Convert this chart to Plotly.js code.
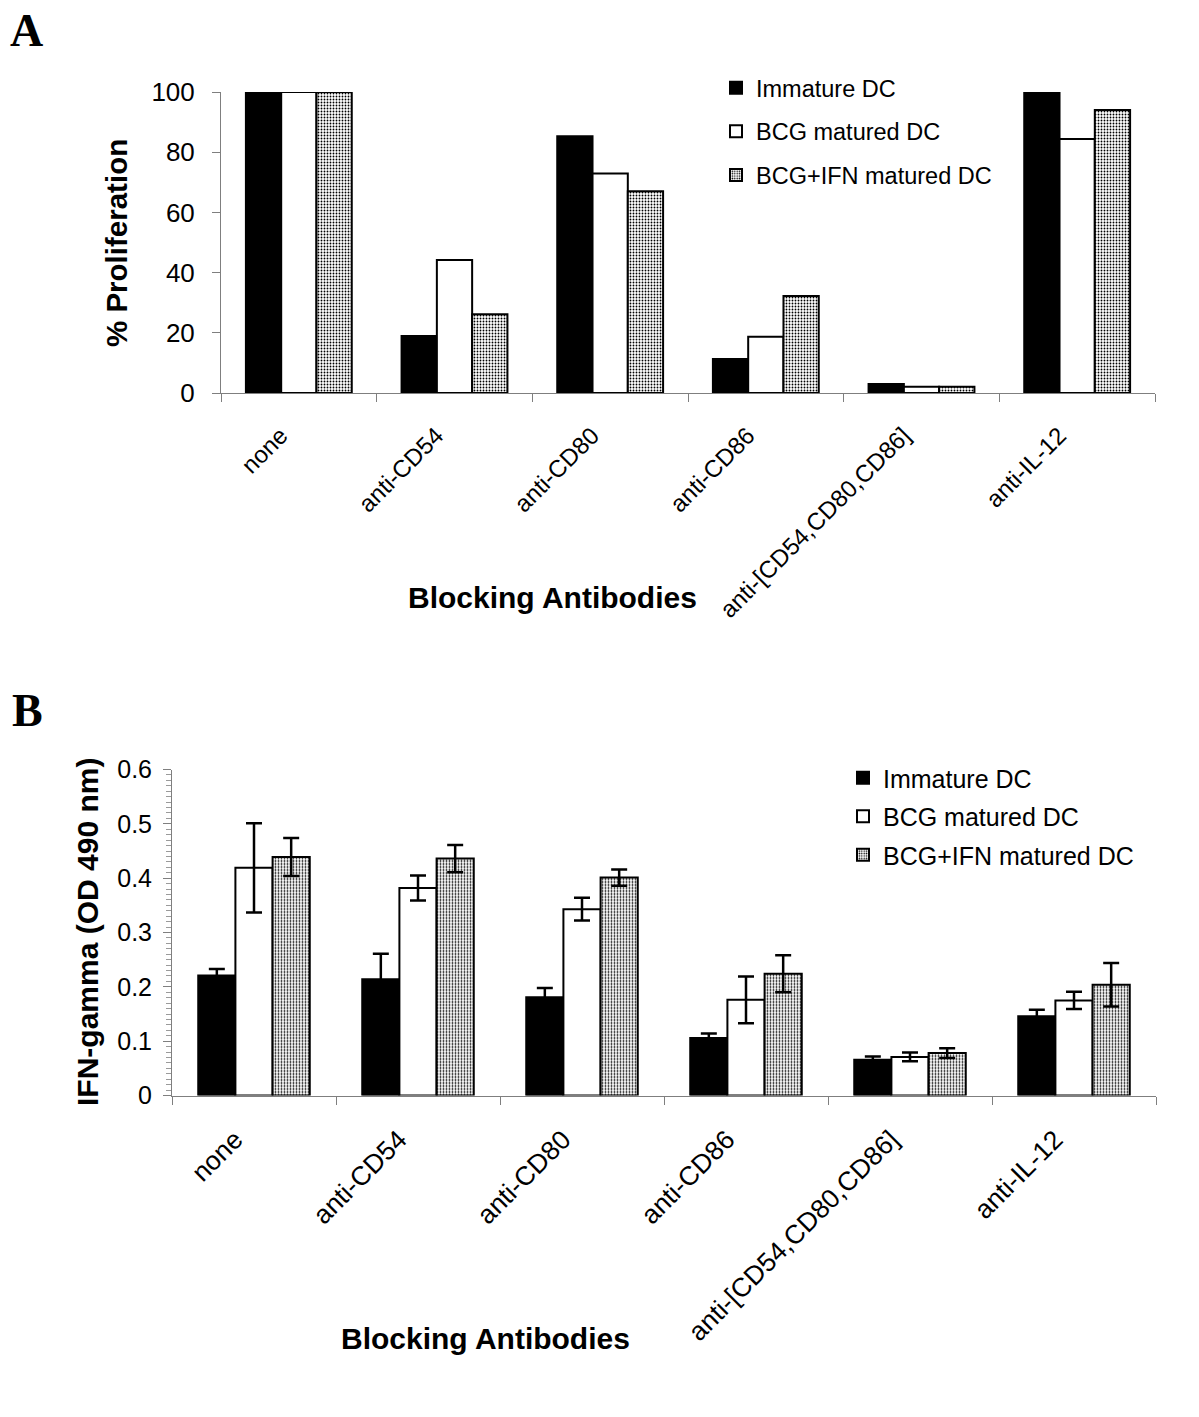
<!DOCTYPE html>
<html>
<head>
<meta charset="utf-8">
<script src="https://cdn.plot.ly/plotly-3.0.1.min.js"></script>
<style>html,body{margin:0;padding:0;background:#fff;}#chart{width:1199px;height:1417px;}</style>
</head>
<body>
<div id="chart"></div>
<script>
// ---- data ----
const categories = ["none", "anti-CD54", "anti-CD80", "anti-CD86", "anti-[CD54,CD80,CD86]", "anti-IL-12"];
const seriesNames = ["Immature DC", "BCG matured DC", "BCG+IFN matured DC"];

// Panel A: % Proliferation
const profImmature = [100.3, 18.9, 85.3, 11.3, 3.0, 101.5];
const profBCG      = [100, 44.2, 72.9, 18.7, 2.1, 84.4];
const profBCGIFN   = [100, 26.2, 67.0, 32.2, 2.1, 94.0];

// Panel B: IFN-gamma (OD 490 nm) with error bars
const ifnImmature    = [0.221, 0.214, 0.181, 0.106, 0.066, 0.146];
const ifnImmatureErr = [0.012, 0.047, 0.017, 0.008, 0.006, 0.012];
const ifnBCG         = [0.419, 0.382, 0.343, 0.176, 0.071, 0.175];
const ifnBCGErr      = [0.082, 0.023, 0.021, 0.043, 0.008, 0.016];
const ifnBCGIFN      = [0.439, 0.436, 0.401, 0.224, 0.078, 0.204];
const ifnBCGIFNErr   = [0.035, 0.025, 0.015, 0.034, 0.009, 0.040];

// ---- styles ----
const W = 1199, H = 1417;
const px = v => v / W;
const py = v => 1 - v / H;
const FONT = "Arial, 'Liberation Sans', Helvetica, sans-serif";
const pat = {shape: ".", size: 3, solidity: 0.3, fgcolor: "#000", bgcolor: "#fff", fillmode: "replace"};
const markers = [
  {color: "#000", line: {color: "#000", width: 2}},
  {color: "#fff", line: {color: "#000", width: 2}},
  {color: "#fff", pattern: pat, line: {color: "#000", width: 2}}
];

const dataA = [profImmature, profBCG, profBCGIFN];
const dataB = [ifnImmature, ifnBCG, ifnBCGIFN];
const errB = [ifnImmatureErr, ifnBCGErr, ifnBCGIFNErr];

const traces = [];
dataA.forEach((vals, i) => {
  traces.push({
    type: "bar", x: categories, y: vals, name: seriesNames[i],
    xaxis: "x", yaxis: "y", legend: "legend", legendgroup: "a" + i,
    marker: markers[i], hoverinfo: "skip"
  });
});
dataB.forEach((vals, i) => {
  traces.push({
    type: "bar", x: categories, y: vals, name: seriesNames[i],
    xaxis: "x2", yaxis: "y2", legend: "legend2", legendgroup: "b" + i,
    marker: markers[i], hoverinfo: "skip",
    error_y: {type: "data", array: errB[i], visible: true, color: "#000", thickness: 2.5, width: 8}
  });
});

const axisCommon = {
  showline: true, linecolor: "#7f7f7f", linewidth: 1, showgrid: false, zeroline: false,
  ticks: "outside", tickcolor: "#7f7f7f", ticklen: 8, tickwidth: 1,
  tickfont: {family: FONT, size: 24, color: "#000"}
};
const xCommon = {
  type: "category", tickson: "boundaries", tickangle: -45,
  ticklabelstandoff: 18, ticklabelshift: -18
};

const layout = {
  width: W, height: H,
  margin: {l: 0, r: 0, t: 0, b: 0},
  paper_bgcolor: "#fff", plot_bgcolor: "#fff",
  font: {family: FONT, color: "#000"},
  barmode: "group", bargap: 0.32, bargroupgap: 0,
  showlegend: true,
  xaxis: Object.assign({}, axisCommon, xCommon, {
    domain: [px(221), px(1155)], anchor: "y"
  }),
  yaxis: Object.assign({}, axisCommon, {
    domain: [py(393), py(92)], anchor: "x", range: [0, 100], dtick: 20,
    ticklabelstandoff: 12,
    tickfont: {family: FONT, size: 26, color: "#000"}
  }),
  xaxis2: Object.assign({}, axisCommon, xCommon, {
    domain: [px(172), px(1156)], anchor: "y2",
    ticklabelstandoff: 17, ticklabelshift: -19,
    tickfont: {family: FONT, size: 26.5, color: "#000"}
  }),
  yaxis2: Object.assign({}, axisCommon, {
    domain: [py(1095.5), py(769.5)], anchor: "x2", range: [0, 0.6], dtick: 0.1,
    tickformat: ".1~f", ticklabelstandoff: 6,
    tickfont: {family: FONT, size: 25, color: "#000"},
    minor: {dtick: 0.01, ticks: "outside", ticklen: 5, tickcolor: "#9a9a9a", tickwidth: 1, showgrid: false}
  }),
  legend: {
    x: px(716), y: py(66), xanchor: "left", yanchor: "top",
    bgcolor: "rgba(0,0,0,0)", borderwidth: 0,
    font: {family: FONT, size: 23.5, color: "#000"},
    traceorder: "grouped", tracegroupgap: 10
  },
  legend2: {
    x: px(843), y: py(755), xanchor: "left", yanchor: "top",
    bgcolor: "rgba(0,0,0,0)", borderwidth: 0,
    font: {family: FONT, size: 25, color: "#000"},
    traceorder: "grouped", tracegroupgap: 3
  },
  annotations: [
    {text: "<b>A</b>", xref: "paper", yref: "paper", x: px(8), y: py(3), xanchor: "left", yanchor: "top",
     showarrow: false, font: {family: "'Liberation Serif', 'Times New Roman', serif", size: 46, color: "#000"}},
    {text: "<b>B</b>", xref: "paper", yref: "paper", x: px(10), y: py(683), xanchor: "left", yanchor: "top",
     showarrow: false, font: {family: "'Liberation Serif', 'Times New Roman', serif", size: 46, color: "#000"}},
    {text: "<b>% Proliferation</b>", xref: "paper", yref: "paper", x: px(116), y: py(243), xanchor: "center", yanchor: "middle",
     textangle: -90, showarrow: false, font: {family: FONT, size: 29.5, color: "#000"}},
    {text: "<b>Blocking Antibodies</b>", xref: "paper", yref: "paper", x: px(552), y: py(597), xanchor: "center", yanchor: "middle",
     showarrow: false, font: {family: FONT, size: 30, color: "#000"}},
    {text: "<b>IFN-gamma (OD 490 nm)</b>", xref: "paper", yref: "paper", x: px(87), y: py(932), xanchor: "center", yanchor: "middle",
     textangle: -90, showarrow: false, font: {family: FONT, size: 30, color: "#000"}},
    {text: "<b>Blocking Antibodies</b>", xref: "paper", yref: "paper", x: px(485), y: py(1338), xanchor: "center", yanchor: "middle",
     showarrow: false, font: {family: FONT, size: 30, color: "#000"}}
  ]
};

Plotly.newPlot("chart", traces, layout, {staticPlot: true, displayModeBar: false});
</script>
</body>
</html>
